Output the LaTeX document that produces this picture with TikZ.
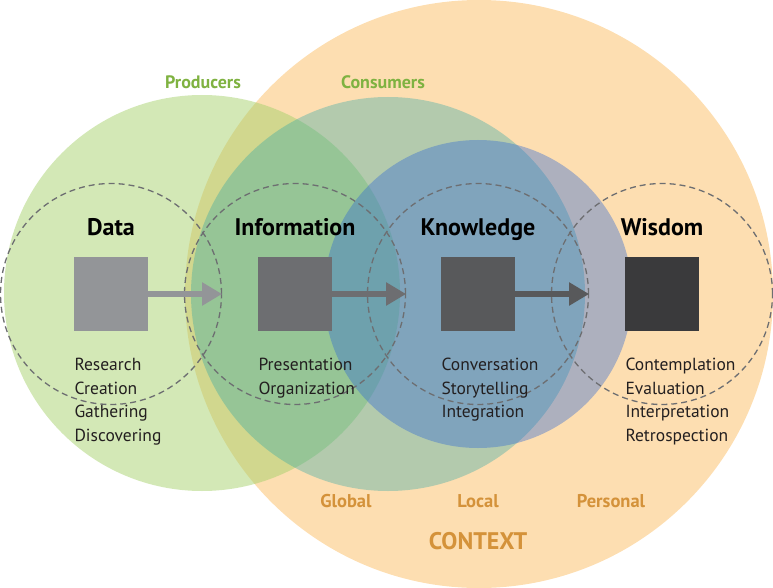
\documentclass[tikz,border=0pt]{standalone}
\usepackage{fontspec}
\setmainfont{PT Sans}
\usepackage{xcolor}
\usetikzlibrary{arrows.meta,positioning}

\definecolor{ctxfill}{HTML}{FDDEB1}
\definecolor{prodfill}{RGB}{167,209,109}
\definecolor{consfill}{RGB}{41,166,166}
\definecolor{knowfill}{RGB}{45,103,213}
\definecolor{datagray}{HTML}{939598}
\definecolor{infogray}{HTML}{6D6E71}
\definecolor{knowgray}{HTML}{58595B}
\definecolor{wisgray}{HTML}{3A3A3C}
\definecolor{ringgray}{HTML}{6D6E71}
\definecolor{listtext}{HTML}{231F20}
\definecolor{prodgreen}{HTML}{7FB241}
\definecolor{ctxorange}{HTML}{D4923A}

\begin{document}
\begin{tikzpicture}[x=1pt,y=-1pt,
  sq/.style={draw=#1,fill=#1,minimum size=73pt,inner sep=0pt},
  ring/.style={circle,draw=ringgray,dash pattern=on 6pt off 4pt,line width=1.3pt,
               minimum size=221pt,inner sep=0pt},
  ttl/.style={font=\fontsize{24}{26}\selectfont\bfseries,inner sep=0pt,anchor=base},
  lst/.style={font=\fontsize{17.5}{23.5}\selectfont,inner sep=0pt,
              anchor=base west,text=listtext},
  arr/.style={draw=#1,line width=6pt,-{Triangle[length=20pt,width=22pt]}},
  grp/.style={font=\fontsize{18}{20}\selectfont\bfseries,text=prodgreen,inner sep=0pt},
  ctx/.style={font=\fontsize{18.5}{20}\selectfont\bfseries,text=ctxorange,inner sep=0pt}
]
\useasboundingbox (0,0) rectangle (773,588);

% Context and audience circles
\fill[ctxfill] (479,294) circle [radius=294pt];
\fill[prodfill,fill opacity=0.5] (202,293) circle [radius=198pt];
\fill[consfill,fill opacity=0.35] (388,294) circle [radius=197pt];
\fill[knowfill,fill opacity=0.38] (478,294) circle [radius=154pt];

% Dashed rings
\node[ring] (dataring) at (111,294) {};
\node[ring] (inforing) at (295,294) {};
\node[ring] (knowring) at (478,294) {};
\node[ring] (wisring) at (662,294) {};

% Squares
\node[sq=datagray] (data) at (111,294) {};
\node[sq=infogray] (info) at (295,294) {};
\node[sq=knowgray] (know) at (478,294) {};
\node[sq=wisgray] (wis) at (662,294) {};

% Arrows
\draw[arr=datagray] (data.east) -- (dataring.east);
\draw[arr=infogray] (info.east) -- (inforing.east);
\draw[arr=knowgray] (know.east) -- (knowring.east);

% Titles
\node[ttl] (datattl) at ([yshift=22pt]data.north) {Data};
\node[ttl] (infottl) at ([yshift=22pt]info.north) {Information};
\node[ttl] (knowttl) at ([yshift=22pt]know.north) {Knowledge};
\node[ttl] (wisttl) at ([yshift=22pt]wis.north) {Wisdom};

% Activities
\node[lst] (datalst) at ([yshift=-40pt]data.south west)
  {\begin{tabular}[t]{@{}l@{}}Research\\Creation\\Gathering\\Discovering\end{tabular}};
\node[lst] (infolst) at ([yshift=-40pt]info.south west)
  {\begin{tabular}[t]{@{}l@{}}Presentation\\Organization\end{tabular}};
\node[lst] (knowlst) at ([yshift=-40pt]know.south west)
  {\begin{tabular}[t]{@{}l@{}}Conversation\\Storytelling\\Integration\end{tabular}};
\node[lst] (wislst) at ([yshift=-40pt]wis.south west)
  {\begin{tabular}[t]{@{}l@{}}Contemplation\\Evaluation\\Interpretation\\Retrospection\end{tabular}};

% Group labels
\node[grp] (prodlbl) at (203,82) {Producers};
\node[grp] (conslbl) at (383,82) {Consumers};
\node[ctx] (globlbl) at (346,501) {Global};
\node[ctx] (loclbl) at (478,501) {Local};
\node[ctx] (perslbl) at (611,501) {Personal};
\node[ctx,font=\fontsize{24}{26}\selectfont\bfseries] (ctxlbl) at (478,541) {CONTEXT};

\end{tikzpicture}
\end{document}
